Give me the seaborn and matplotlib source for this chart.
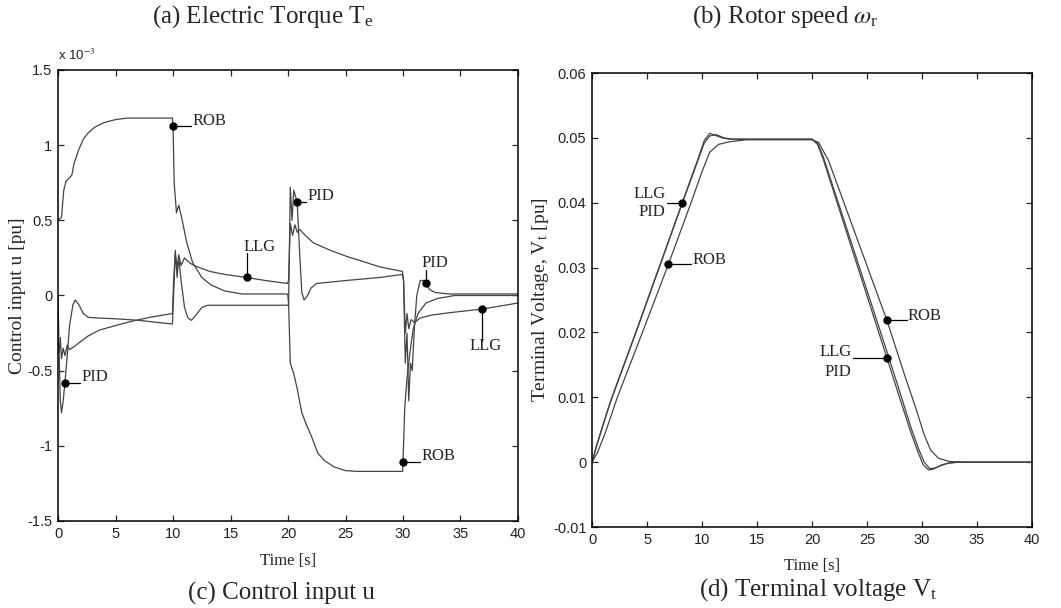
import numpy as np
import pandas as pd
import matplotlib
matplotlib.use('Agg')
import matplotlib.pyplot as plt
import seaborn as sns

# ---- (c) control input u, values in units of 1e-3 pu ----
rob_u_t = [0, 0.3, 0.5, 0.7, 1.2, 1.4, 1.8, 2.2, 2.6, 3.2, 4.0, 5.0, 6.0, 9.95,
           10.0, 10.1, 10.3, 10.5, 10.8, 11.2, 11.7, 12.5, 13.3, 14.5, 16.0, 19.97,
           20.05, 20.2, 20.5, 20.8, 21.2, 21.6, 22.0, 22.6, 23.2, 24.0, 25.0, 26.0, 29.97,
           30.0, 30.15, 30.35, 30.6, 30.9, 31.3, 32.0, 33.0, 34.5, 40.0]
rob_u = [0.50, 0.52, 0.70, 0.76, 0.80, 0.88, 0.97, 1.04, 1.08, 1.12, 1.15, 1.17, 1.18, 1.18,
         1.13, 0.75, 0.55, 0.60, 0.50, 0.35, 0.22, 0.12, 0.07, 0.03, 0.01, 0.01,
         -0.05, -0.45, -0.52, -0.62, -0.78, -0.86, -0.93, -1.05, -1.10, -1.14, -1.165, -1.17, -1.17,
         -1.11, -0.75, -0.55, -0.38, -0.22, -0.12, -0.05, -0.02, 0.0, 0.0]

llg_u_t = [0, 0.1, 0.2, 0.3, 0.45, 0.6, 0.8, 1.0, 1.4, 1.9, 2.6, 3.6, 5.0, 6.5, 8.0, 9.95,
           10.05, 10.2, 10.35, 10.5, 10.7, 11.0, 11.4, 11.8, 12.5, 13.2, 14.5, 16.4, 18.0, 19.95,
           20.05, 20.2, 20.4, 20.6, 20.8, 21.0, 21.5, 22.2, 23.7, 25.1, 28.0, 29.95,
           30.05, 30.2, 30.35, 30.5, 30.7, 31.0, 31.5, 32.5, 34.0, 36.9, 40.0]
llg_u = [-0.30, -0.38, -0.28, -0.42, -0.35, -0.40, -0.33, -0.36, -0.34, -0.31, -0.27, -0.23, -0.20, -0.17, -0.145, -0.12,
         0.10, 0.28, 0.18, 0.27, 0.20, 0.25, 0.22, 0.20, 0.18, 0.16, 0.14, 0.12, 0.10, 0.08,
         0.10, 0.48, 0.40, 0.47, 0.42, 0.44, 0.40, 0.35, 0.30, 0.26, 0.19, 0.16,
         0.10, -0.25, -0.12, -0.22, -0.16, -0.18, -0.15, -0.13, -0.115, -0.09, -0.05]

pid_u_t = [0, 0.1, 0.2, 0.3, 0.45, 0.6, 0.8, 1.0, 1.3, 1.5, 1.8, 2.2, 2.6, 3.5, 5.0, 7.0, 9.95,
           10.05, 10.2, 10.35, 10.5, 10.7, 11.0, 11.3, 11.6, 12.0, 12.5, 13.0, 19.95,
           20.05, 20.2, 20.35, 20.5, 20.8, 21.0, 21.2, 21.4, 21.7, 22.0, 22.5, 25.1, 28.0, 29.95,
           30.05, 30.2, 30.35, 30.5, 30.65, 30.8, 31.0, 31.2, 31.5, 31.8, 32.0, 32.3, 32.8, 34.0, 40.0]
pid_u = [0.0, -0.40, -0.70, -0.78, -0.70, -0.58, -0.40, -0.20, -0.06, -0.03, -0.06, -0.12, -0.145, -0.15, -0.155, -0.165, -0.19,
         0.0, 0.30, 0.12, 0.25, 0.10, -0.08, -0.15, -0.165, -0.13, -0.08, -0.065, -0.065,
         -0.06, 0.72, 0.50, 0.70, 0.62, 0.30, 0.02, -0.03, 0.0, 0.05, 0.08, 0.10, 0.12, 0.14,
         0.10, -0.45, -0.25, -0.70, -0.45, -0.50, -0.20, 0.0, 0.10, 0.10, 0.08, 0.04, 0.02, 0.01, 0.01]

# ---- (d) terminal voltage Vt [pu] ----
llg_v_t = [0, 0.4, 1.0, 1.7, 4.06, 8.2, 9.6, 10.2, 10.7, 11.2, 11.8, 12.5, 20.0,
           20.5, 21.0, 26.8, 27.95, 29.0, 29.6, 30.1, 30.6, 31.0, 31.6, 32.3, 33.2, 40.0]
llg_v = [0, 0.0025, 0.0058, 0.0095, 0.0204, 0.0400, 0.0466, 0.0496, 0.0507, 0.0504, 0.0500, 0.0498, 0.0498,
         0.0490, 0.0468, 0.0161, 0.0100, 0.0045, 0.0017, -0.0004, -0.0012, -0.0011, -0.0006, -0.0002, 0.0, 0.0]

pid_v_t = [0, 0.4, 1.0, 1.7, 4.06, 8.2, 9.6, 10.2, 10.7, 11.3, 12.0, 12.8, 20.0,
           20.5, 21.0, 26.8, 27.95, 29.0, 29.7, 30.2, 30.7, 31.2, 31.8, 32.5, 33.4, 40.0]
pid_v = [0, 0.0024, 0.0057, 0.0094, 0.0203, 0.0399, 0.0464, 0.0492, 0.0503, 0.0505, 0.0500, 0.0498, 0.0498,
         0.0492, 0.0472, 0.0171, 0.0110, 0.0053, 0.0020, 0.0000, -0.0010, -0.0009, -0.0004, -0.0001, 0.0, 0.0]

rob_v_t = [0, 0.5, 1.2, 2.3, 4.67, 6.94, 9.0, 10.0, 10.7, 11.5, 12.5, 14.0, 20.0,
           20.6, 21.5, 26.8, 28.5, 29.5, 30.2, 30.8, 31.5, 32.5, 34.0, 40.0]
rob_v = [0, 0.0015, 0.0045, 0.0100, 0.0204, 0.0305, 0.0400, 0.0448, 0.0478, 0.0490, 0.0494, 0.0497, 0.0497,
         0.0493, 0.0465, 0.0219, 0.0130, 0.0080, 0.0042, 0.0018, 0.0006, 0.0001, 0.0, 0.0]

x_ticks = [0, 5, 10, 15, 20, 25, 30, 35, 40]
u_ticks = [-1.5, -1, -0.5, 0, 0.5, 1, 1.5]
u_tick_labels = ['-1.5', '-1', '-0.5', '0', '0.5', '1', '1.5']
v_ticks = [-0.01, 0, 0.01, 0.02, 0.03, 0.04, 0.05, 0.06]
v_tick_labels = ['-0.01', '0', '0.01', '0.02', '0.03', '0.04', '0.05', '0.06']

#%%
sns.set_style('ticks')
plt.rcParams['font.family'] = ['Liberation Serif', 'DejaVu Serif']
plt.rcParams['mathtext.fontset'] = 'stix'
plt.rcParams['axes.unicode_minus'] = False

line_col = '#444444'

fig = plt.figure(figsize=(10.61, 6.08), dpi=100)
ax_u = fig.add_axes([0.0547, 0.1431, 0.4335, 0.7418])
ax_v = fig.add_axes([0.558, 0.1332, 0.4147, 0.7467])


def draw_series(ax, t, y):
    df = pd.DataFrame({'t': t, 'y': y})
    sns.lineplot(data=df, x='t', y='y', ax=ax, color=line_col, linewidth=0.9,
                 estimator=None, sort=False, legend=False)


def callout(ax, t, y, t_mark, kind, end, labels, tx, ty, ha, va, dy=0):
    # black dot on the curve plus a leader line to the label
    y_mark = np.interp(t_mark, t, y)
    if kind == 'h':
        ax.plot([t_mark, end], [y_mark, y_mark], color='k', lw=0.9)
    else:
        ax.plot([t_mark, t_mark], [y_mark, end], color='k', lw=0.9)
    ax.plot(t_mark, y_mark, 'o', color='k', ms=5, zorder=5)
    for i, lab in enumerate(labels):
        ax.text(tx, ty - i * dy, lab, ha=ha, va=va, fontsize=12)


for t, y in [(rob_u_t, rob_u), (llg_u_t, llg_u), (pid_u_t, pid_u)]:
    draw_series(ax_u, t, y)
for t, y in [(rob_v_t, rob_v), (llg_v_t, llg_v), (pid_v_t, pid_v)]:
    draw_series(ax_v, t, y)

# control input callouts
callout(ax_u, rob_u_t, rob_u, 10.0, 'h', 11.6, ['ROB'], 11.7, 1.16, 'left', 'center')
callout(ax_u, llg_u_t, llg_u, 16.4, 'v', 0.28, ['LLG'], 16.1, 0.27, 'left', 'bottom')
callout(ax_u, pid_u_t, pid_u, 20.8, 'h', 21.6, ['PID'], 21.7, 0.66, 'left', 'center')
callout(ax_u, pid_u_t, pid_u, 32.0, 'v', 0.17, ['PID'], 31.6, 0.16, 'left', 'bottom')
callout(ax_u, llg_u_t, llg_u, 36.9, 'v', -0.30, ['LLG'], 35.8, -0.28, 'left', 'top')
callout(ax_u, rob_u_t, rob_u, 30.0, 'h', 31.5, ['ROB'], 31.6, -1.07, 'left', 'center')
callout(ax_u, pid_u_t, pid_u, 0.6, 'h', 1.9, ['PID'], 2.0, -0.54, 'left', 'center')

# terminal voltage callouts
callout(ax_v, llg_v_t, llg_v, 8.2, 'h', 6.8, ['LLG', 'PID'], 6.7, 0.0414, 'right', 'center', dy=0.0028)
callout(ax_v, rob_v_t, rob_v, 6.94, 'h', 9.0, ['ROB'], 9.1, 0.0312, 'left', 'center')
callout(ax_v, rob_v_t, rob_v, 26.8, 'h', 28.6, ['ROB'], 28.7, 0.0226, 'left', 'center')
callout(ax_v, llg_v_t, llg_v, 26.8, 'h', 23.7, ['LLG', 'PID'], 23.6, 0.0170, 'right', 'center', dy=0.0031)

for ax in (ax_u, ax_v):
    ax.set_xlim(0, 40)
    ax.set_xticks(x_ticks)
    ax.set_xticklabels([str(x) for x in x_ticks])
    ax.tick_params(direction='in', top=True, right=True, length=4, width=0.9,
                   labelsize=10.5, labelfontfamily='Liberation Sans', labelcolor='#222222', pad=4)
    for sp in ax.spines.values():
        sp.set_visible(True)
        sp.set_linewidth(1.1)
        sp.set_color('k')
    ax.set_xlabel('Time [s]', fontsize=12)

ax_u.set_ylim(-1.5, 1.5)
ax_u.set_yticks(u_ticks)
ax_u.set_yticklabels(u_tick_labels)
ax_u.set_ylabel('Control input u [pu]', fontsize=14)
ax_u.yaxis.set_label_coords(-0.07, 0.5)
ax_u.xaxis.set_label_coords(0.5, -0.07)
ax_u.text(0.0, 1.015, 'x 10$^{-3}$', transform=ax_u.transAxes, ha='left', va='bottom',
          fontsize=9.5, family='Liberation Sans', color='#222222')

ax_v.set_ylim(-0.01, 0.06)
ax_v.set_yticks(v_ticks)
ax_v.set_yticklabels(v_tick_labels)
ax_v.set_ylabel('Terminal Voltage, V$_\\mathregular{t}$ [pu]', fontsize=14)
ax_v.yaxis.set_label_coords(-0.093, 0.5)
ax_v.xaxis.set_label_coords(0.5, -0.068)

# panel captions
fig.text(263 / 1061, 1 - 17 / 608, '(a) Electric Torque T$_\\mathregular{e}$', ha='center', va='center', fontsize=18)
fig.text(785 / 1061, 1 - 17 / 608, '(b) Rotor speed $\\omega_\\mathregular{r}$', ha='center', va='center', fontsize=18)
fig.text(281 / 1061, 1 - 593 / 608, '(c) Control input u', ha='center', va='center', fontsize=18)
fig.text(818 / 1061, 1 - 590 / 608, '(d) Terminal voltage V$_\\mathregular{t}$', ha='center', va='center', fontsize=18)

fig.savefig('out.png', dpi=100)
